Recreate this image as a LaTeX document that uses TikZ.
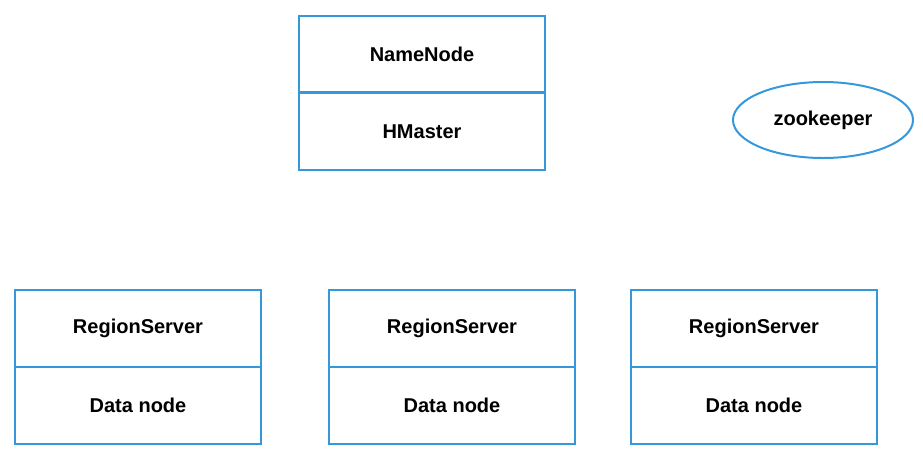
\documentclass[tikz,border=0pt]{standalone}
\usepackage{fontspec}
\setmainfont{Liberation Sans}
\usetikzlibrary{shapes.geometric}
\definecolor{boxblue}{RGB}{52,152,219}
\begin{document}
\begin{tikzpicture}[x=0.75pt,y=-0.75pt,
  cell/.style={draw=boxblue,line width=1.5pt,minimum width=184.5pt,minimum height=57.4pt,inner sep=0pt,font=\fontsize{15}{18}\selectfont\bfseries},
  zkcell/.style={draw=boxblue,line width=1.5pt,ellipse,minimum width=135pt,minimum height=57pt,inner sep=0pt,font=\fontsize{15}{18}\selectfont\bfseries}]
\useasboundingbox (0,0) rectangle (923,458);
\node[cell] (nn) at (422,54) {NameNode};
\node[cell] (hm) at (422,131.3) {HMaster};
\node[zkcell] (zk) at (823,120) {zookeeper};
\foreach \x/\i in {138/1,452/2,754/3} {
  \node[cell] (rs\i) at (\x,328.5) {RegionServer};
  \node[cell] (dn\i) at (\x,405.5) {Data node};
}
\end{tikzpicture}
\end{document}
